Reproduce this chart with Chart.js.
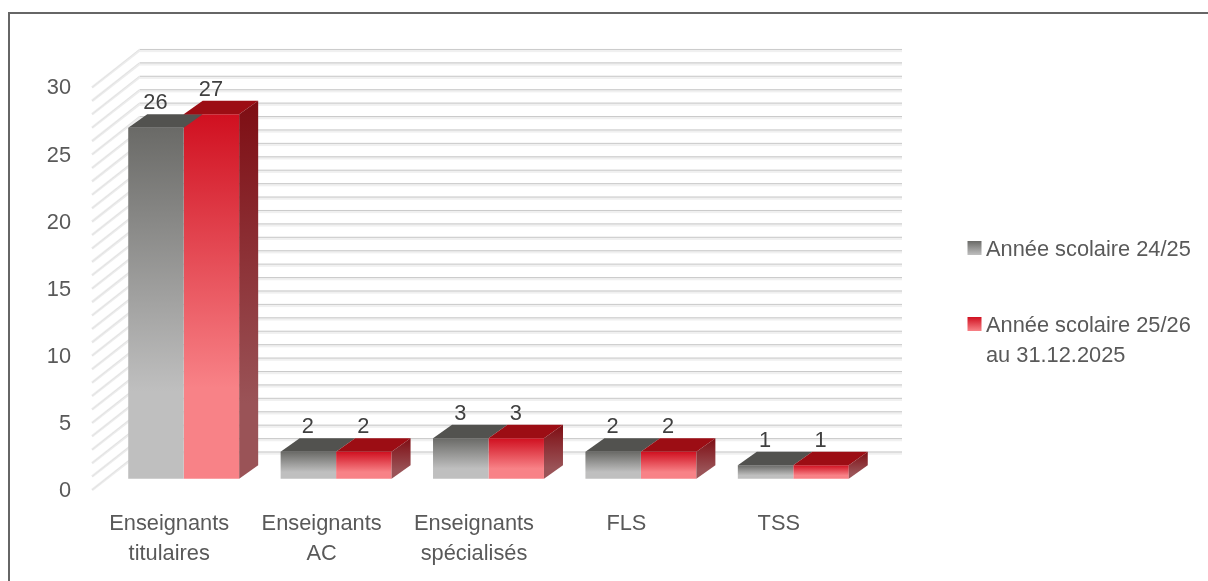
<!DOCTYPE html>
<html><head><meta charset="utf-8">
<style>html,body{margin:0;padding:0;background:#fff;overflow:hidden}canvas{display:block}</style>
<script src="https://cdn.jsdelivr.net/npm/chart.js@4"></script>
</head><body><canvas id="c" width="1208" height="581"></canvas>
<script>
const categories = [['Enseignants','titulaires'],['Enseignants','AC'],['Enseignants','spécialisés'],['FLS'],['TSS']];
const series2425 = [26,2,3,2,1];
const series2526 = [27,2,3,2,1];
const seriesNames = ['Année scolaire 24/25','Année scolaire 25/26\nau 31.12.2025'];
const yTicks = [0,5,10,15,20,25,30];

const FONT = '"Liberation Sans"';
const FS = 21.8;
const PLOT = {left:107.5,right:338.5,top:48,bottom:91};
const AREA_TOP = 49.2, AREA_BOTTOM = 490;
const DEPTH = {dx:19,dy:-13.5};
const WALL = {dx:48,dy:-38.5,leftFromArea:-15.5,rightFromArea:32.5};
const styles = [
 {front:['#6a6a67','#bfbfbf'],top:'#52524f',side:null},
 {front:['#d01020','#f88287'],top:'#9c0d14',side:['#7e0d13','#9a5357']}
];
function frontGradient(ctx){
  const c=ctx.chart, s=styles[ctx.datasetIndex], sc=c.scales.yBars;
  if(ctx.parsed===undefined||!sc||sc.top===undefined) return s.front[0];
  const y0=sc.getPixelForValue(ctx.parsed.y), y1=sc.getPixelForValue(0);
  const g=c.ctx.createLinearGradient(0,y0,0,y1);
  g.addColorStop(0,s.front[0]);g.addColorStop(.75,s.front[1]);g.addColorStop(1,s.front[1]);
  return g;
}
const scene = {
  id:'scene',
  beforeDraw(chart){
    const x=chart.ctx;
    x.save();
    x.fillStyle='#fff';x.fillRect(0,0,chart.width,chart.height);
    x.fillStyle='#666';
    x.fillRect(8,12,2,chart.height-12);
    x.fillRect(8,12,chart.width-8,2);
    x.restore();
  },
  beforeDatasetsDraw(chart){
    const x=chart.ctx,a=chart.chartArea,sc=chart.scales.y;
    const lx=a.left+WALL.leftFromArea, bx=lx+WALL.dx, rx=a.right+WALL.rightFromArea;
    x.save();
    for(let v=0;v<=30;v++){
      const fy=sc.getPixelForValue(v), by=fy+WALL.dy;
      x.strokeStyle='#ececec';x.lineWidth=2.6;
      x.beginPath();x.moveTo(lx,fy);x.lineTo(bx,by+1);x.stroke();
      x.strokeStyle='#dcdcdc';x.lineWidth=.6;
      x.beginPath();x.moveTo(lx,fy);x.lineTo(bx,by);x.stroke();
      x.fillStyle='#f0f0f0';x.fillRect(bx,by,rx-bx,3.2);
      x.fillStyle='#cacaca';x.fillRect(bx,by,rx-bx,1);
    }
    x.restore();
  },
  afterDatasetsDraw(chart){
    const x=chart.ctx;
    x.save();
    chart.data.datasets.forEach((d,i)=>{
      const s=styles[i],m=chart.getDatasetMeta(i);
      m.data.forEach(b=>{
        const l=b.x-b.width/2,r=b.x+b.width/2,t=b.y,bt=b.base;
        x.fillStyle=s.top;
        x.beginPath();x.moveTo(l,t);x.lineTo(l+DEPTH.dx,t+DEPTH.dy);x.lineTo(r+DEPTH.dx,t+DEPTH.dy);x.lineTo(r,t);x.closePath();x.fill();
        if(s.side){
          const g=x.createLinearGradient(0,t+DEPTH.dy,0,bt);
          g.addColorStop(0,s.side[0]);g.addColorStop(.8,s.side[1]);g.addColorStop(1,s.side[1]);
          x.fillStyle=g;
          x.beginPath();x.moveTo(r,t);x.lineTo(r+DEPTH.dx,t+DEPTH.dy);x.lineTo(r+DEPTH.dx,bt+DEPTH.dy);x.lineTo(r,bt);x.closePath();x.fill();
        }
      });
    });
    // value labels
    x.font=FS+'px '+FONT;x.fillStyle='#404040';x.textAlign='center';x.textBaseline='middle';
    chart.data.datasets.forEach((d,i)=>{
      chart.getDatasetMeta(i).data.forEach((b,j)=>{
        x.fillText(String(d.data[j]),b.x+DEPTH.dx/2-10,b.y+DEPTH.dy-11);
      });
    });
    // legend
    const lxs=chart.chartArea.right+98, lys=[241,317];
    chart.data.datasets.forEach((d,i)=>{
      const ly=lys[i],s=styles[i];
      const g=x.createLinearGradient(0,ly,0,ly+14);
      g.addColorStop(0,s.front[0]);g.addColorStop(1,s.front[1]);
      x.fillStyle=g;x.fillRect(lxs,ly,14,14);
      x.fillStyle='#595959';x.textAlign='left';
      d.label.split('\n').forEach((t,k)=>x.fillText(t,lxs+18.5,ly+8.5+k*30));
    });
    x.restore();
  }
};
new Chart(document.getElementById('c'),{
  type:'bar',
  data:{labels:categories,datasets:[
    {label:seriesNames[0],data:series2425,yAxisID:'yBars',backgroundColor:frontGradient,borderWidth:0,categoryPercentage:.728,barPercentage:1},
    {label:seriesNames[1],data:series2526,yAxisID:'yBars',backgroundColor:frontGradient,borderWidth:0,categoryPercentage:.728,barPercentage:1}
  ]},
  plugins:[scene],
  options:{
    responsive:false,animation:false,
    layout:{padding:{left:0,right:PLOT.right,top:PLOT.top,bottom:0}},
    plugins:{legend:{display:false},tooltip:{enabled:false}},
    scales:{
      x:{
        grid:{display:false},border:{display:false},
        ticks:{font:{family:FONT,size:FS,lineHeight:1.38},color:'#595959',autoSkip:false,maxRotation:0,minRotation:0,padding:11,labelOffset:-14.5},
        afterFit(s){s.height=PLOT.bottom;}
      },
      y:{
        position:'left',min:0,max:(AREA_BOTTOM-AREA_TOP)/13.43,
        grid:{display:false,drawTicks:false},border:{display:false},
        ticks:{font:{family:FONT,size:FS},color:'#595959',padding:36.5,stepSize:5,labelOffset:1},
        afterBuildTicks(s){s.ticks=yTicks.map(v=>({value:v}));},
        afterFit(s){s.width=PLOT.left;}
      },
      yBars:{display:false,min:-(AREA_BOTTOM-478.8)/13.51,max:(478.8-AREA_TOP)/13.51}
    }
  }
});
</script></body></html>
